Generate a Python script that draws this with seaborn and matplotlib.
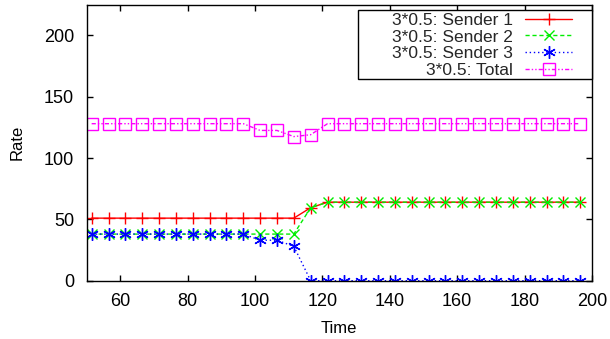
import matplotlib
matplotlib.use("Agg")
import matplotlib.pyplot as plt
from matplotlib.patches import Rectangle
import seaborn as sns
import pandas as pd

time = [51.5, 56.5, 61.5, 66.5, 71.5, 76.5, 81.5, 86.5, 91.5, 96.5,
        101.5, 106.5, 111.5, 116.5, 121.5, 126.5, 131.5, 136.5, 141.5, 146.5,
        151.5, 156.5, 161.5, 166.5, 171.5, 176.5, 181.5, 186.5, 191.5, 196.5]
sender1 = [51, 51, 51, 51, 51, 51, 51, 51, 51, 51,
           51, 51, 51, 59.5, 64, 64, 64, 64, 64, 64,
           64, 64, 64, 64, 64, 64, 64, 64, 64, 64]
sender2 = [38, 38, 38, 38, 38, 38, 38, 38, 38, 38,
           38, 38, 38, 59.5, 64, 64, 64, 64, 64, 64,
           64, 64, 64, 64, 64, 64, 64, 64, 64, 64]
sender3 = [38, 38, 38, 38, 38, 38, 38, 38, 38, 38,
           33, 33, 28, 0, 0, 0, 0, 0, 0, 0,
           0, 0, 0, 0, 0, 0, 0, 0, 0, 0]
total = [128, 128, 128, 128, 128, 128, 128, 128, 128, 128,
         122.5, 122.5, 117.5, 119, 128, 128, 128, 128, 128, 128,
         128, 128, 128, 128, 128, 128, 128, 128, 128, 128]
labels = ["3*0.5: Sender 1", "3*0.5: Sender 2", "3*0.5: Sender 3", "3*0.5: Total"]
xticks = [60, 80, 100, 120, 140, 160, 180, 200]
yticks = [0, 50, 100, 150, 200]

sns.set_theme(style="white")
plt.rcParams["font.family"] = ["Liberation Sans", "DejaVu Sans"]

fig = plt.figure(figsize=(6.10, 3.39), dpi=100)
ax = fig.add_axes([86.6 / 610, 1 - 280.7 / 339, (592 - 86.6) / 610, (280.7 - 4.7) / 339])

series = [sender1, sender2, sender3, total]
colors = ["#ff0000", "#00ee00", "#0000ff", "#ff00ff"]
markers = ["+", "x", (6, 2, 0), "s"]
msizes = [9, 7.5, 9, 8]
dashes = [None, (3, 2), (1, 2), (3, 1.5, 1, 1.5, 1, 1.5)]

for vals, lab, col in zip(series, labels, colors):
    df = pd.DataFrame({"Time": time, "Rate": vals})
    sns.lineplot(data=df, x="Time", y="Rate", ax=ax, label=lab, color=col, linewidth=1.0)

for line, mk, ms, ds, col in zip(ax.lines, markers, msizes, dashes, colors):
    line.set_marker(mk)
    line.set_markersize(ms)
    line.set_markeredgewidth(1.0)
    line.set_markeredgecolor(col)
    line.set_markerfacecolor("none")
    if ds is None:
        line.set_linestyle("-")
    else:
        line.set_dashes(ds)

ax.set_xlim(50, 200)
ax.set_ylim(0, 225)
ax.set_xticks(xticks)
ax.set_yticks(yticks)
ax.tick_params(direction="in", length=4, width=1, top=True, right=True,
               bottom=True, left=True, labelsize=13, colors="black")
ax.tick_params(axis="x", pad=9)
ax.tick_params(axis="y", pad=9)
for sp in ax.spines.values():
    sp.set_color("black")
    sp.set_linewidth(1.0)
ax.set_xlabel("Time", fontsize=12, color="black", labelpad=8)
ax.set_ylabel("Rate", fontsize=12, color="black", labelpad=14)

# legend frame (gnuplot-style key box)
ax.add_patch(Rectangle((0.537, 0.731), 0.9994 - 0.537, 0.981 - 0.731,
                       transform=ax.transAxes, facecolor="white", edgecolor="black",
                       linewidth=1.0, zorder=4, clip_on=False))
leg = ax.legend(loc="upper right", bbox_to_anchor=((572 - 86.6) / 505.4, (280.7 - 12.5) / 276),
                borderaxespad=0, markerfirst=False, fontsize=12.5, frameon=False,
                labelspacing=0.1, borderpad=0.0, handlelength=2.7, handletextpad=0.69)
leg.set_zorder(5)

fig.savefig("out.png", dpi=100)
